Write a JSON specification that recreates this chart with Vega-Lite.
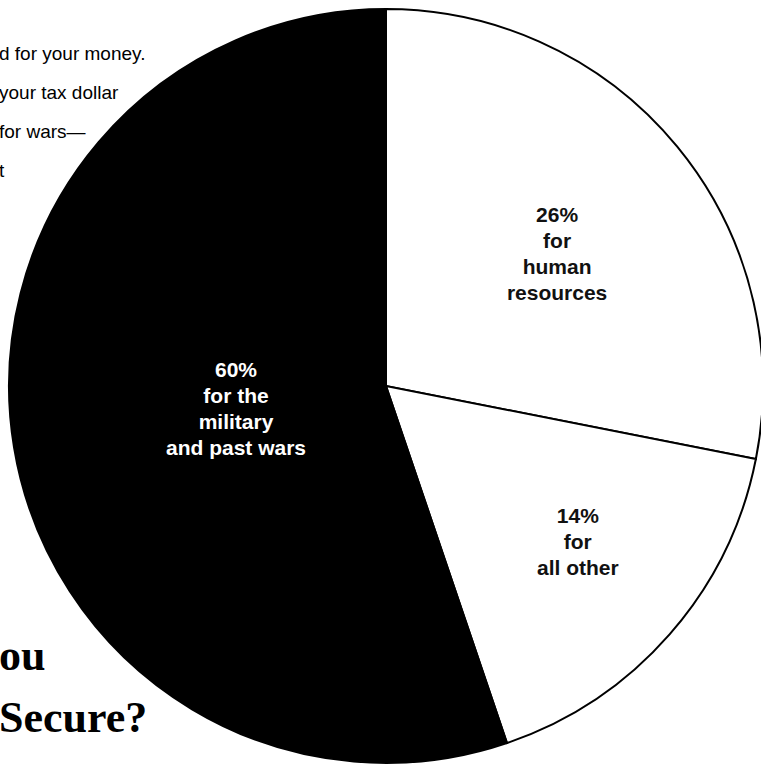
{
  "$schema": "https://vega.github.io/schema/vega-lite/v6.json",
  "width": 750,
  "height": 760,
  "autosize": {"type": "none"},
  "padding": {"left": 11, "top": 6, "right": 0, "bottom": 0},
  "background": "white",
  "title": {
    "text": ["d for your money.", "your tax dollar", "for wars—", "t"],
    "subtitle": ["ou", "Secure?"],
    "anchor": "start",
    "orient": "top",
    "frame": "group",
    "font": "Liberation Sans",
    "fontSize": 19,
    "fontWeight": "normal",
    "color": "#000000",
    "lineHeight": 39,
    "subtitleFont": "Liberation Serif",
    "subtitleFontSize": 44,
    "subtitleFontWeight": "bold",
    "subtitleColor": "#000000",
    "subtitleLineHeight": 62,
    "subtitlePadding": 454,
    "dx": -12,
    "dy": 736,
    "offset": 0
  },
  "data": {
    "values": [
      {"slice": "human resources", "label": "26%\nfor\nhuman\nresources", "share": 28.1, "idx": 1},
      {"slice": "all other", "label": "14%\nfor\nall other", "share": 16.7, "idx": 2},
      {"slice": "military and past wars", "label": "60%\nfor the\nmilitary\nand past wars", "share": 55.2, "idx": 3}
    ]
  },
  "encoding": {
    "theta": {"field": "share", "type": "quantitative", "stack": true},
    "order": {"field": "idx", "type": "quantitative"}
  },
  "layer": [
    {
      "mark": {"type": "arc", "radius": 377, "stroke": "#000000", "strokeWidth": 2},
      "encoding": {
        "color": {
          "field": "slice",
          "type": "nominal",
          "scale": {"domain": ["human resources", "all other", "military and past wars"], "range": ["#ffffff", "#ffffff", "#000000"]},
          "legend": null
        }
      }
    },
    {
      "mark": {"type": "text", "radius": 215, "dx": 5, "dy": -33, "lineBreak": "\n", "lineHeight": 26, "font": "Liberation Sans", "fontSize": 21, "fontWeight": "bold", "align": "center", "baseline": "middle", "color": "#111111"},
      "encoding": {
        "text": {"condition": {"test": "datum.slice === 'human resources'", "field": "label"}, "value": ""}
      }
    },
    {
      "mark": {"type": "text", "radius": 247, "dx": 6, "dy": -32, "lineBreak": "\n", "lineHeight": 26, "font": "Liberation Sans", "fontSize": 21, "fontWeight": "bold", "align": "center", "baseline": "middle", "color": "#111111"},
      "encoding": {
        "text": {"condition": {"test": "datum.slice === 'all other'", "field": "label"}, "value": ""}
      }
    },
    {
      "mark": {"type": "text", "radius": 152, "dx": 0, "dy": -40, "lineBreak": "\n", "lineHeight": 26, "font": "Liberation Sans", "fontSize": 21, "fontWeight": "bold", "align": "center", "baseline": "middle", "color": "#ffffff"},
      "encoding": {
        "text": {"condition": {"test": "datum.slice === 'military and past wars'", "field": "label"}, "value": ""}
      }
    }
  ]
}
